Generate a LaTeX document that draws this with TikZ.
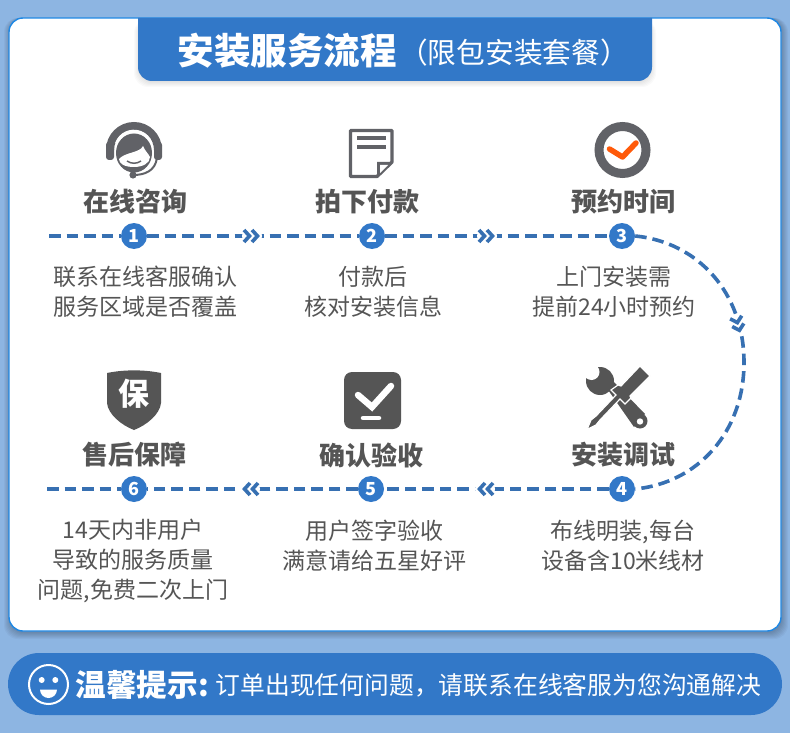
\documentclass[tikz,border=0pt]{standalone}
\usepackage{fontspec}
\setmainfont{Noto Sans CJK SC}
\definecolor{pagebg}{RGB}{141,181,226}
\definecolor{mainblue}{RGB}{50,120,200}
\definecolor{cardline}{RGB}{30,136,229}
\definecolor{flowblue}{RGB}{55,112,178}
\definecolor{icongray}{RGB}{97,98,103}
\definecolor{textgray}{RGB}{85,85,85}
\definecolor{checkorange}{RGB}{255,90,10}
\tikzset{
    numdot/.style={circle, fill=mainblue, text=white, inner sep=0pt, minimum size=26pt, font=\fontsize{18}{18}\selectfont\bfseries},
    steptitle/.style={text=textgray, inner sep=0pt, font=\fontsize{26}{26}\selectfont\bfseries},
    stepdesc/.style={text=textgray, inner sep=0pt, align=center, font=\fontsize{23}{30}\selectfont},
    flow/.style={flowblue, line width=3.6pt, dash pattern=on 11.5pt off 6pt},
    chevgap/.style={circle, fill=white, inner sep=0pt, minimum size=20pt},
    chevrons/.pic={
        \draw[flowblue, line width=3.6pt] (-8,-6) -- (-2.5,0) -- (-8,6);
        \draw[flowblue, line width=3.6pt] (0,-6) -- (5.5,0) -- (0,6);
    }
}
\begin{document}
\begin{tikzpicture}[x=1pt, y=-1pt]
    \useasboundingbox (0,0) rectangle (790,733);
    % 1. Page background and card
    \fill[pagebg] (0,0) rectangle (790,733);
    \foreach \s in {1,...,7} {
        \fill[black, opacity=0.035, rounded corners=14pt] (9-\s+2,18) rectangle (781+\s,631+\s+1);
    }
    \draw[cardline, fill=white, line width=1.4pt, rounded corners=14pt] (9,18) rectangle (781,631);

    % 2. Heading tab
    \foreach \s in {1,...,6} {
        \fill[black, opacity=0.02, rounded corners=14pt] (138-\s+2,19) rectangle (652+\s-2,81+\s);
    }
    \fill[mainblue] (138,18) [rounded corners=14pt] -- (138,81) -- (652,81) [sharp corners] -- (652,18) -- cycle;
    \node[text=white, inner sep=0pt, anchor=west, font=\fontsize{36.5}{36.5}\selectfont\bfseries] (headmain) at (177.5,51) {安装服务流程};
    \node[text=white, inner sep=0pt, anchor=west, font=\fontsize{28.7}{28.7}\selectfont] (headsub) at (399,53) {（限包安装套餐）};

    % 3. Numbered dots of the flow
    \foreach \i/\x/\y in {1/134/236, 2/372/236, 3/622/236, 4/622/489, 5/371/489, 6/134/489} {
        \node[numdot] (n\i) at (\x,\y) {\i};
    }
    \coordinate (start1) at (49,236);
    \coordinate (end6) at (47,489);
    \coordinate (turn) at (744,362.5);

    % 4. Dashed connectors
    \draw[flow] (start1) -- (n1);
    \draw[flow] (n1) -- (n2);
    \draw[flow] (n2) -- (n3);
    \draw[flow] (n3.east) .. controls (697,242) and (744,292) .. (turn) .. controls (744,433) and (697,483) .. (n4.east);
    \draw[flow] (n4) -- (n5);
    \draw[flow] (n5) -- (n6);
    \draw[flow] (end6) -- (n6);

    % 5. Double chevrons on the connectors
    \foreach \i/\x/\y/\a in {1/252/236/0, 2/487/236/0, 3/738/325/-75, 4/485/489/180, 5/250/489/180} {
        \node[chevgap] (chev\i) at (\x,\y) {};
        \pic[rotate=\a] at (chev\i) {chevrons};
    }

    % 6. Titles and descriptions
    \node[steptitle] (title1) at (135,202) {在线咨询};
    \node[steptitle] (title2) at (367,202) {拍下付款};
    \node[steptitle] (title3) at (623,202) {预约时间};
    \node[steptitle] (title4) at (623,455) {安装调试};
    \node[steptitle] (title5) at (371,455) {确认验收};
    \node[steptitle] (title6) at (134,455) {售后保障};
    \node[stepdesc] (desc1) at (145,292) {联系在线客服确认\\服务区域是否覆盖};
    \node[stepdesc] (desc2) at (373,292) {付款后\\核对安装信息};
    \node[stepdesc] (desc3) at (614,292) {上门安装需\\提前24小时预约};
    \node[stepdesc] (desc4) at (623,546) {布线明装,每台\\设备含10米线材};
    \node[stepdesc] (desc5) at (374,546) {用户签字验收\\满意请给五星好评};
    \node[stepdesc] (desc6) at (133,561) {14天内非用户\\导致的服务质量\\问题,免费二次上门};

    % 7. Headset icon
    \draw[icongray, line width=8pt] (110,150) arc (-180:0:24);
    \fill[icongray, rounded corners=3pt] (106,142) rectangle (114,160);
    \fill[icongray, rounded corners=3pt] (154,142) rectangle (162,160);
    \draw[white, line width=1.6pt] (116,143) arc (-160:-20:19);
    \fill[icongray] (134,153) ellipse (18 and 19.5);
    \fill[white] (119,159) .. controls (125,152) and (140,153) .. (143,146) .. controls (145,151) and (148,153) .. (150,157) .. controls (150,163) and (143,167) .. (134,167) .. controls (125,167) and (119,164) .. cycle;
    \draw[icongray, line width=1.5pt] (127,161) .. controls (131,164) and (137,164) .. (141,161);
    \draw[icongray, line width=2pt] (157,158) .. controls (155,171) and (145,175) .. (133,175);
    \fill[icongray] (133,175) circle (3.6);

    % 8. Document icon
    \draw[icongray, line width=3.4pt, line join=round] (392,162) -- (392,130.5) -- (350.5,130.5) -- (350.5,176.5) -- (377,176.5) -- cycle;
    \fill[icongray] (392,162) -- (377,176.5) -- (377,162) -- cycle;
    \fill[white] (388,165) -- (380,173) -- (380,165) -- cycle;
    \draw[icongray, line width=3.4pt] (357,138) -- (386,138);
    \draw[icongray, line width=3.4pt] (357,147) -- (386,147);

    % 9. Clock check icon
    \draw[icongray, line width=9pt] (622.5,150) circle (23.5);
    \draw[checkorange, line width=5.5pt, line cap=round, line join=round] (609.5,149) -- (622.5,157) -- (636,143);

    % 10. Tools icon
    \fill[textgray] (600,381) circle (14);
    \fill[textgray] (606,387) -- (612,380) -- (645,414) -- (634,427) -- cycle;
    \fill[textgray] (640,421) circle (7.5);
    \fill[white] (640,421.5) circle (3.2);
    \fill[white] (591.5,372) circle (8);
    \filldraw[textgray, draw=white, line width=1.2pt] (640,366) -- (650,376) -- (630,396) -- (631,398) -- (625,404) -- (620,399) -- (600,420) -- (596,425) -- (587,429.5) -- (591,420) -- (596,416) -- (616,395) -- (611,390) -- (618,385) -- (621,386) -- cycle;

    % 11. Confirm icon
    \fill[textgray, rounded corners=8pt] (344,372) rectangle (401,429);
    \draw[white, line width=6.5pt, line cap=round, line join=miter] (358,395) -- (372,407) -- (391,386);
    \draw[white, line width=4.5pt, line cap=round] (363,418) -- (379,418);

    % 12. Shield icon
    \fill[textgray] (107,373) .. controls (124,369.5) and (144,369.5) .. (161,373) -- (161,403) .. controls (160,414) and (147,425) .. (134,430) .. controls (121,425) and (108,414) .. (107,403) -- cycle;
    \node[text=white, inner sep=0pt, font=\fontsize{31}{31}\selectfont\bfseries] (shieldtext) at (134,394) {保};

    % 13. Footer bar
    \fill[mainblue, rounded corners=31pt] (8,653) rectangle (782,715);
    \draw[white, line width=2pt] (48.5,684.5) circle (19.5);
    \fill[white] (41.7,680) circle (3);
    \fill[white] (55.3,680) circle (3);
    \fill[white] (40,689.5) -- (57,689.5) arc (0:180:8.5) -- cycle;
    \node[text=white, inner sep=0pt, anchor=west, font=\fontsize{30.6}{30.6}\selectfont\bfseries] (tiphead) at (75.5,685) {温馨提示:};
    \node[text=white, inner sep=0pt, anchor=west, font=\fontsize{24.8}{24.8}\selectfont] (tipbody) at (215.5,685) {订单出现任何问题，请联系在线客服为您沟通解决};
\end{tikzpicture}
\end{document}
